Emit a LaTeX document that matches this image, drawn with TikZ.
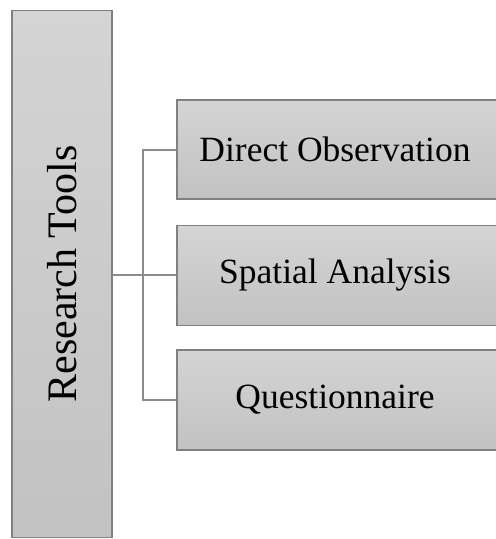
\documentclass[tikz,border=0pt]{standalone}
\usepackage{fontspec}
\setmainfont{Liberation Serif}
\definecolor{boxtop}{HTML}{D4D4D4}
\definecolor{boxbot}{HTML}{C2C2C2}
\definecolor{boxline}{HTML}{808080}
\definecolor{linkline}{HTML}{8C8C8C}
\begin{document}
\begin{tikzpicture}[x=1pt,y=-1pt,
  toolbox/.style={draw=boxline, line width=1.2pt, top color=boxtop, bottom color=boxbot,
    rectangle, inner sep=0pt},
  maintext/.style={font=\fontsize{42}{46}\selectfont},
  tooltext/.style={font=\fontsize{35.5}{40}\selectfont},
  link/.style={draw=linkline, line width=2pt}]
  \useasboundingbox (0,0) rectangle (496,539);
  \begin{scope}
  \clip (0,0) rectangle (496,539);
  % main category, text runs upward
  \node[toolbox, minimum width=100pt, minimum height=527pt] (L) at (62,274) {};
  \node[maintext, rotate=90] (Lt) at (L.center) {Research Tools};
  % the three tools
  \node[toolbox, minimum width=322pt, minimum height=99pt] (D) at (338,149.5) {};
  \node[toolbox, minimum width=322pt, minimum height=100pt] (S) at (338,275.5) {};
  \node[toolbox, minimum width=322pt, minimum height=100pt] (Q) at (338,400) {};
  \node[tooltext] (Dt) at (335,149.5) {Direct Observation};
  \node[tooltext] (St) at (335,275.5) {Spatial Analysis};
  \node[tooltext] (Qt) at (335,400) {Questionnaire};
  \end{scope}
  % connectors
  \coordinate (j) at (143,275);
  \draw[link] (L.east |- j) -- (S.west |- j);
  \draw[link] (D.west) -| (j) |- (Q.west);
\end{tikzpicture}
\end{document}
